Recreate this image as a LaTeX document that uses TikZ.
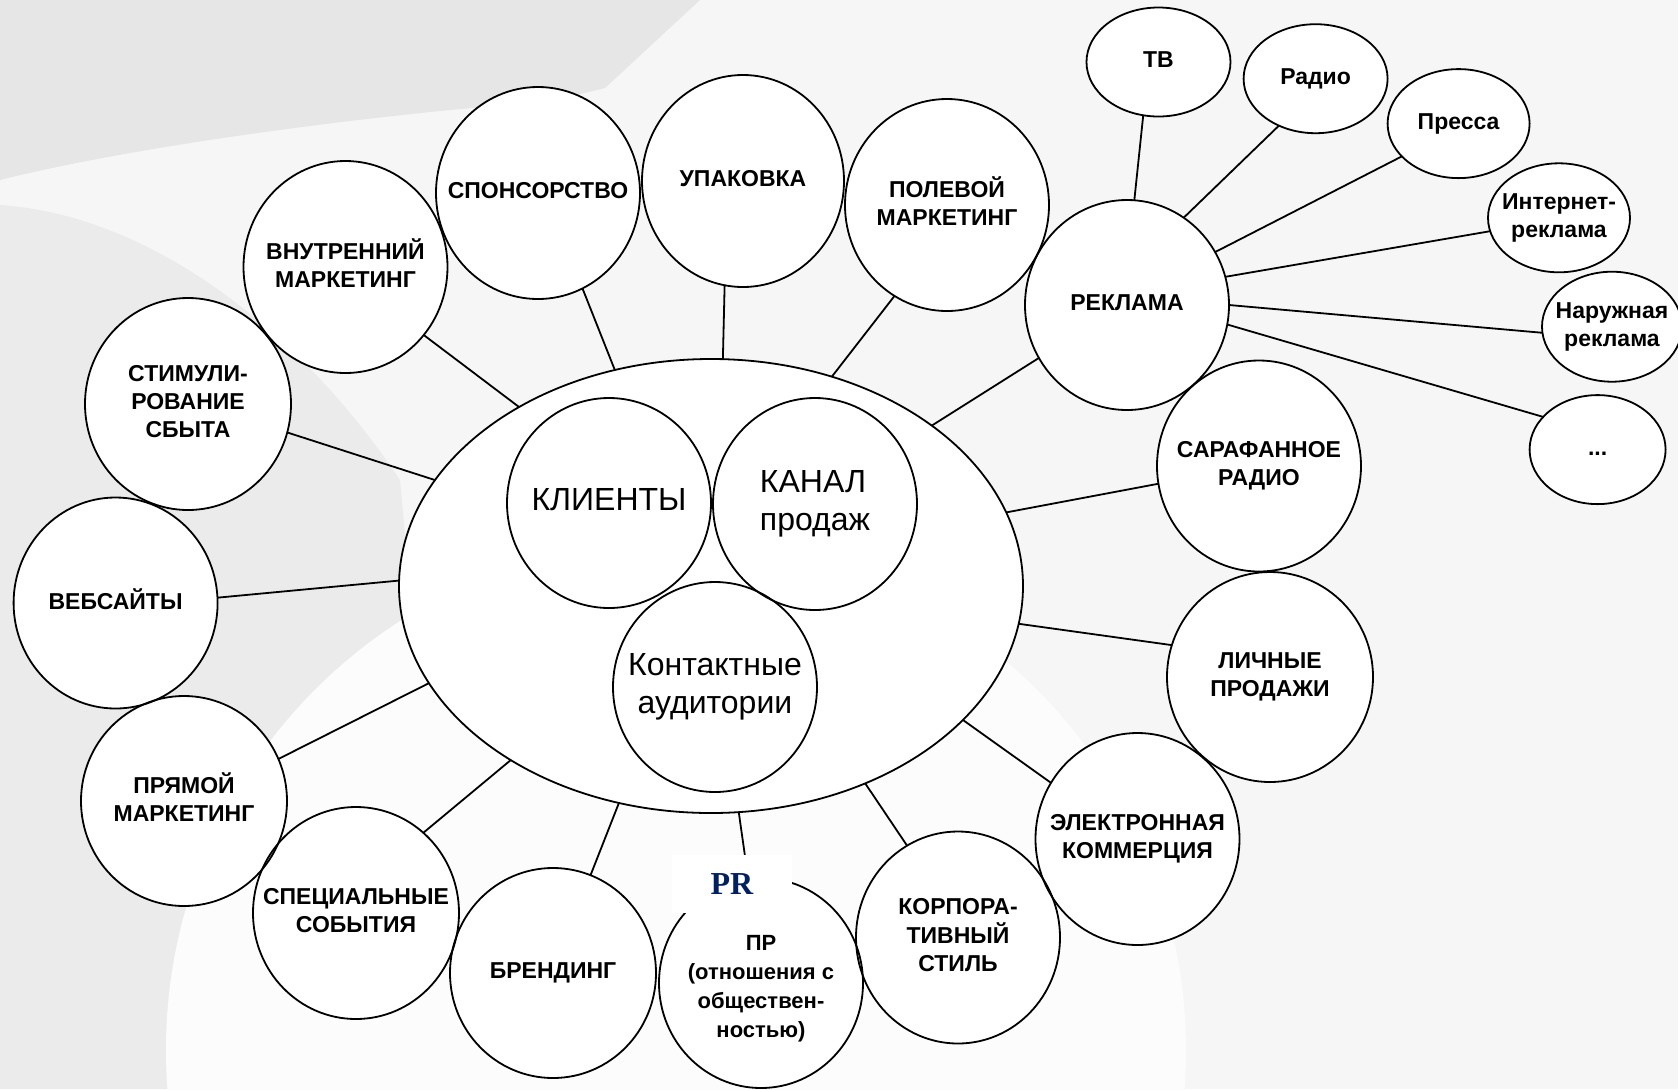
\documentclass[tikz,border=0pt]{standalone}
\usepackage{fontspec}
\setmainfont{Liberation Sans}
\newfontfamily\prfont{Liberation Serif}
\usetikzlibrary{shapes.geometric,backgrounds,calc}
\definecolor{navyPR}{RGB}{0,32,96}
\definecolor{bgbase}{RGB}{246,246,246}
\definecolor{bgleft}{RGB}{235,235,235}
\definecolor{bgcap}{RGB}{230,230,230}
\definecolor{bgwhite}{RGB}{252,252,252}
\newcommand{\bubtxt}[1]{\makebox[0pt]{\begin{tabular}{@{}c@{}}#1\end{tabular}}}
\newcommand{\bubtxtl}[1]{\makebox[0pt]{\begin{tabular}{@{}l@{}}#1\end{tabular}}}
\tikzset{
  bub/.style={ellipse, draw=black, line width=0.9pt, inner sep=0pt, outer sep=0pt,
    font=\fontsize{11.5}{14}\selectfont\bfseries},
  big/.style={ellipse, draw=black, line width=0.9pt, inner sep=0pt, outer sep=0pt,
    font=\fontsize{16}{19}\selectfont},
  prbub/.style={bub, font=\fontsize{11}{14.5}\selectfont\bfseries},
  conn/.style={draw=black, line width=0.9pt},
  sz/.style 2 args={minimum width=#1pt, minimum height=#2pt},
}
\begin{document}
\begin{tikzpicture}[x=0.5pt, y=-0.5pt]
\useasboundingbox (0,0) rectangle (1678,1089);

% central ellipse and inner circles
\node[big, sz={312}{227}] (main) at (711,586) {};
\node[big, sz={102}{105}] (kl) at (609,503) {\bubtxt{КЛИЕНТЫ}};
\node[big, sz={102}{106}] (kan) at (815,504) {\bubtxtl{КАНАЛ\\продаж}};
\node[big, sz={102}{105}] (kont) at (715,687) {\bubtxt{Контактные\\аудитории}};

% outer bubbles
\node[bub, sz={102}{106}] (spons) at (538,193) {\bubtxt{СПОНСОРСТВО}};
\node[bub, sz={101}{106}] (upak) at (743,181) {\bubtxt{УПАКОВКА}};
\node[bub, sz={102}{106}] (polev) at (947,205) {\bubtxt{ПОЛЕВОЙ\\МАРКЕТИНГ}};
\node[bub, sz={102}{106}] (vnutr) at (345.5,267) {\bubtxt{ВНУТРЕННИЙ\\МАРКЕТИНГ}};
\node[bub, sz={103}{106}] (stim) at (188,404) {\bubtxt{СТИМУЛИ-\\РОВАНИЕ\\СБЫТА}};
\node[bub, sz={102}{105.5}] (veb) at (115.6,603) {\bubtxt{ВЕБСАЙТЫ}};
\node[bub, sz={103}{105}] (pryam) at (184,801) {\bubtxt{ПРЯМОЙ\\МАРКЕТИНГ}};
\node[bub, sz={103}{106}] (spec) at (356,913) {\bubtxt{СПЕЦИАЛЬНЫЕ\\СОБЫТИЯ}};
\node[bub, sz={103}{105}] (brend) at (553,973) {\bubtxt{БРЕНДИНГ}};
\node[prbub, sz={102}{105}] (pr) at (761,983) {\bubtxt{\rule{0pt}{15.2pt}ПР\\(отношения с\\обществен-\\ностью)}};
\node[bub, sz={102}{106}] (korp) at (958,937.5) {\bubtxt{КОРПОРА-\\ТИВНЫЙ\\СТИЛЬ}};
\node[bub, sz={102}{106}] (elek) at (1137.5,839) {\bubtxt{ЭЛЕКТРОННАЯ\\КОММЕРЦИЯ}};
\node[bub, sz={103}{105}] (lich) at (1270,677) {\bubtxt{ЛИЧНЫЕ\\ПРОДАЖИ}};
\node[bub, sz={102}{105.5}] (saraf) at (1259,466) {\bubtxt{САРАФАННОЕ\\РАДИО}};
\node[bub, sz={102}{105}] (rekl) at (1127,305) {\bubtxt{РЕКЛАМА}};

% advertising sub-bubbles
\node[bub, sz={72}{54.5}] (tv) at (1158.5,62) {\bubtxt{ТВ}};
\node[bub, sz={72}{54.5}] (radio) at (1315.6,78.7) {\bubtxt{Радио}};
\node[bub, sz={71}{54.5}] (pressa) at (1458.6,123.6) {\bubtxt{Пресса}};
\node[bub, sz={71}{54.5}] (inet) at (1559,217.8) {\bubtxt{Интернет-\\реклама}};
\node[bub, sz={70}{55}] (naruzh) at (1612,326.7) {\bubtxt{Наружная\\реклама}};
\node[bub, sz={68}{54.5}] (dots) at (1597.6,449.6) {\bubtxt{...}};

% background and white fills
\begin{scope}[on background layer]
  \fill[bgbase] (0,0) rectangle (1678,1089);
  \fill[bgleft] (0,205) .. controls (150,215) and (300,330) .. (400,480) -- (420,700) -- (200,1089) -- (0,1089) -- cycle;
  \fill[bgwhite] (676,1050) circle[radius=510];
  \fill[bgcap] (0,0) -- (700,0) -- (605,88) .. controls (560,100) and (520,104) .. (450,110) .. controls (300,125) and (120,150) .. (0,180) -- cycle;
  \foreach \nd in {main,spons,upak,polev,vnutr,stim,veb,pryam,spec,brend,pr,korp,elek,lich,saraf,rekl,tv,radio,pressa,inet,naruzh,dots} {
    \fill[white] let \p1=(\nd.east), \p2=(\nd.north), \p3=(\nd.center) in (\p3) ellipse [x radius=\x1-\x3, y radius=\y2-\y3];
  }
\end{scope}

% connectors to the central ellipse
\draw[conn] (spons.-65.5) -- (main.114.7);
\draw[conn] (upak.-100.5) -- (main.87.9);
\draw[conn] (polev.-120.2) -- (main.60.1);
\draw[conn] (vnutr.-41.5) -- (main.137.3);
\draw[conn] (stim.-16.3) -- (main.159.9);
\draw[conn] (veb.3.6) -- (main.179.7);
\draw[conn] (pryam.24.5) -- (main.-161.1);
\draw[conn] (spec.50.1) -- (main.-139.7);
\draw[conn] (brend.69.8) -- (main.-113.3);
\draw[conn] (pr.97.2) -- (main.-83);
\draw[conn] (korp.119.7) -- (main.-52.4);
\draw[conn] (elek.147.6) -- (main.-28.3);
\draw[conn] (lich.162.8) -- (main.-7);
\draw[conn] (saraf.190.3) -- (main.14.5);
\draw[conn] (rekl.211.6) -- (main.36.5);

% connectors of advertising
\draw[conn] (tv.-106.9) -- (rekl.86.7);
\draw[conn] (radio.-128.5) -- (rekl.57.8);
\draw[conn] (pressa.-150.9) -- (rekl.31.9);
\draw[conn] (inet.-169.6) -- (rekl.16.7);
\draw[conn] (naruzh.-175.6) -- (rekl.-0.5);
\draw[conn] (dots.149.5) -- (rekl.-11.7);

% PR overlay label
\node[fill=white, minimum width=60pt, minimum height=29pt, inner sep=0pt,
  font=\prfont\bfseries\fontsize{16}{18}\selectfont, text=navyPR] (prlabel) at (732,884) {PR};
\end{tikzpicture}
\end{document}
